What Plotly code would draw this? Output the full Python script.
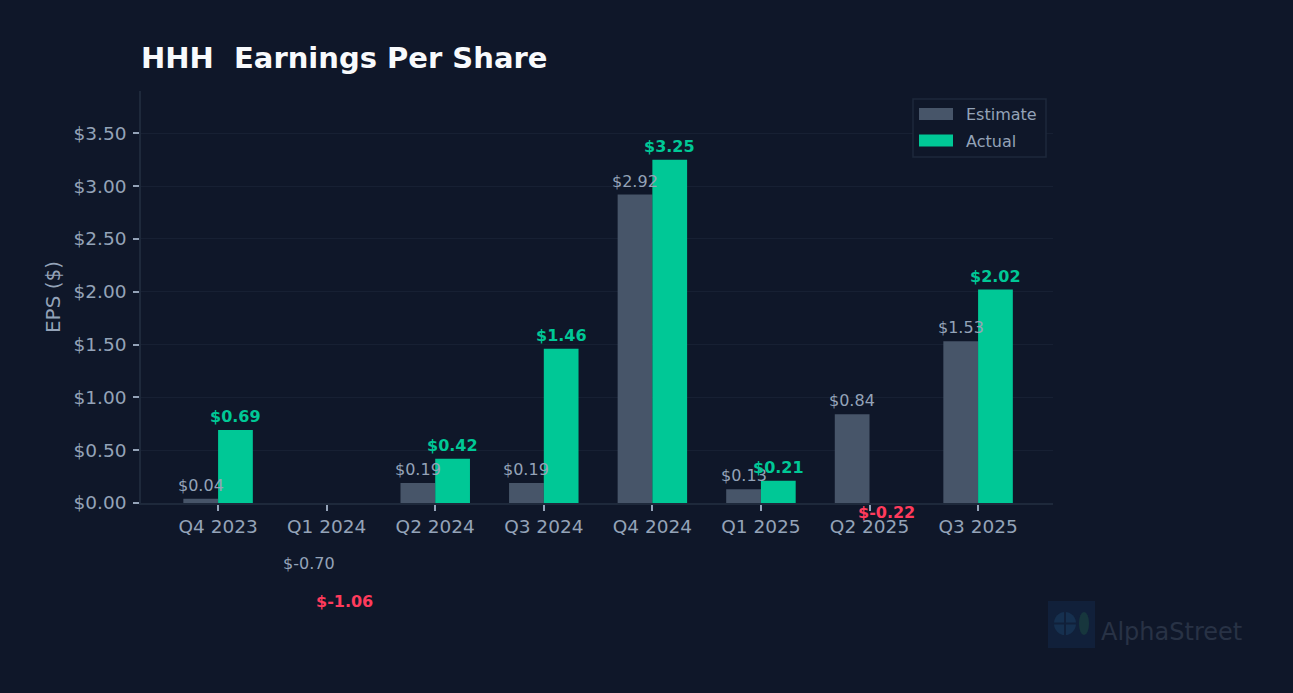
import plotly.graph_objects as go

quarters = ["Q4 2023", "Q1 2024", "Q2 2024", "Q3 2024", "Q4 2024", "Q1 2025", "Q2 2025", "Q3 2025"]
estimate = [0.04, -0.70, 0.19, 0.19, 2.92, 0.13, 0.84, 1.53]
actual = [0.69, -1.06, 0.42, 1.46, 3.25, 0.21, -0.22, 2.02]
yticks = [0.0, 0.5, 1.0, 1.5, 2.0, 2.5, 3.0, 3.5]
series_names = ["Estimate", "Actual"]

BG = "#0f1729"
EST_C = "#475569"
ACT_C = "#00c896"
NEG_C = "#ff3b5c"
TXT = "#94a3b8"
GRID = "#172033"
AXLINE = "#1e293b"
FONT = "DejaVu Sans"

W = 0.32
ymin, ymax = 0.0, max(actual) * 1.2
xs = list(range(len(quarters)))

# plot area in pixels
L, R, T, B = 141, 240, 91, 190
FW, FH = 1293, 693
pw, ph = FW - L - R, FH - T - B
def px(xp):
    return (xp - L) / pw
def py(yp):
    return (FH - B - yp) / ph

fig = go.Figure()
fig.add_trace(go.Bar(x=xs, y=estimate, name=series_names[0], marker=dict(color=EST_C, line=dict(width=0)),
                     hoverinfo="skip", showlegend=False))
fig.add_trace(go.Bar(x=xs, y=actual, name=series_names[1], marker=dict(color=ACT_C, line=dict(width=0)),
                     hoverinfo="skip", showlegend=False))

def frac(v):
    return (v - ymin) / (ymax - ymin)

ann = []
for i, (e, a) in enumerate(zip(estimate, actual)):
    ann.append(dict(x=i - W / 2, xref="x", y=frac(e), yref="paper", yanchor="bottom", xanchor="center",
                    text=f"${e:.2f}", showarrow=False, yshift=2,
                    font=dict(family=FONT, size=16, color=TXT)))
    ann.append(dict(x=i + W / 2, xref="x", y=frac(a), yref="paper", yanchor="bottom", xanchor="center",
                    text=f"<b>${a:.2f}</b>", showarrow=False, yshift=2,
                    font=dict(family=FONT, size=16, color=ACT_C if a >= 0 else NEG_C)))

# custom legend (wide swatches like the reference)
shapes = [dict(type="rect", xref="paper", yref="paper", x0=px(913), x1=px(1046), y0=py(157), y1=py(99),
               fillcolor=BG, line=dict(color=AXLINE, width=1.5), layer="above")]
for k, (name, col) in enumerate(zip(series_names, [EST_C, ACT_C])):
    yc = 114 + 26.5 * k
    shapes.append(dict(type="rect", xref="paper", yref="paper", x0=px(919), x1=px(953),
                       y0=py(yc + 6), y1=py(yc - 6), fillcolor=col, line=dict(width=0), layer="above"))
    ann.append(dict(x=px(964), y=py(yc + 1), xref="paper", yref="paper", xanchor="left", yanchor="middle",
                    text=name, showarrow=False, font=dict(family=FONT, size=16, color=TXT)))

# watermark
ann.append(dict(x=px(1099), y=py(632), xref="paper", yref="paper", xanchor="left", yanchor="middle",
                text="AlphaStreet", showarrow=False, font=dict(family=FONT, size=24, color="#283245")))
shapes.append(dict(type="rect", xref="paper", yref="paper", x0=px(1048), x1=px(1095), y0=py(648), y1=py(601),
                   fillcolor="#11203a", line=dict(width=0), layer="above"))
shapes.append(dict(type="circle", xref="paper", yref="paper", x0=px(1054), x1=px(1076),
                   y0=py(635), y1=py(612), fillcolor="#16304f", line=dict(width=0), layer="above"))
shapes.append(dict(type="line", xref="paper", yref="paper", x0=px(1065), x1=px(1065),
                   y0=py(636), y1=py(611), line=dict(color="#11203a", width=2), layer="above"))
shapes.append(dict(type="line", xref="paper", yref="paper", x0=px(1053), x1=px(1077),
                   y0=py(623.5), y1=py(623.5), line=dict(color="#11203a", width=2), layer="above"))
shapes.append(dict(type="circle", xref="paper", yref="paper", x0=px(1079), x1=px(1089),
                   y0=py(635), y1=py(612), fillcolor="#17363d", line=dict(width=0), layer="above"))

fig.update_layout(
    width=FW, height=FH,
    paper_bgcolor=BG, plot_bgcolor=BG,
    margin=dict(l=L, r=R, t=T, b=B, autoexpand=False),
    barmode="group", bargap=1 - 2 * W, bargroupgap=0,
    font=dict(family=FONT, color=TXT),
    title=dict(text="HHH\u00a0 Earnings Per Share", x=L / FW, xanchor="left", xref="container",
               y=1 - 58 / FH, yanchor="middle", yref="container",
               font=dict(family=FONT, size=29, color="#f8fafc", weight="bold")),
    showlegend=False,
    annotations=ann,
    shapes=shapes,
)

fig.update_xaxes(range=[-0.71, len(quarters) - 1 + 0.69], tickvals=xs, ticktext=quarters,
                 showgrid=False, showline=True, linecolor=AXLINE, linewidth=1.5,
                 ticks="outside", ticklen=6, tickwidth=2, tickcolor=TXT,
                 tickfont=dict(family=FONT, size=18.5, color=TXT), zeroline=False)
fig.update_yaxes(range=[ymin, ymax], tickvals=yticks, ticktext=[f"${v:.2f}" for v in yticks],
                 showgrid=True, gridcolor=GRID, gridwidth=1,
                 showline=True, linecolor=AXLINE, linewidth=1.5,
                 ticks="outside", ticklen=6, tickwidth=2, tickcolor=TXT, ticklabelstandoff=3,
                 tickfont=dict(family=FONT, size=18.5, color=TXT), zeroline=False,
                 title=dict(text="EPS ($)", font=dict(family=FONT, size=20, color=TXT), standoff=8))

fig.write_html("out.html", config={"displayModeBar": False},
               post_script="document.body.style.margin='0';document.body.style.background='" + BG + "';")
